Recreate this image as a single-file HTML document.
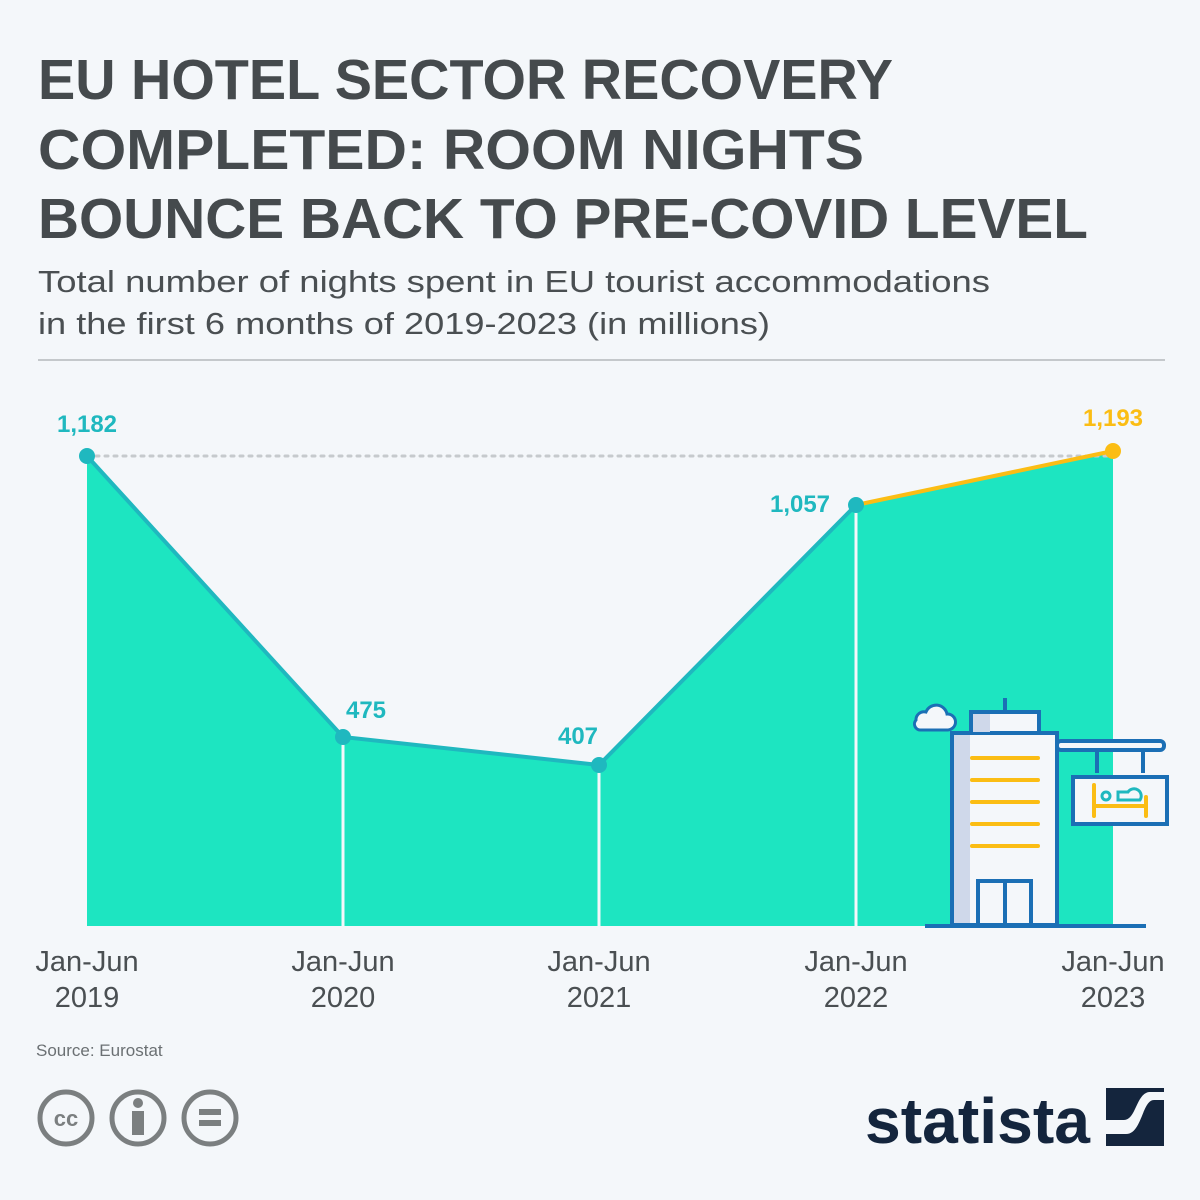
<!DOCTYPE html>
<html><head><meta charset="utf-8"><style>
body{margin:0;background:#f4f7fa;}
svg{display:block}
</style></head><body>
<svg width="1200" height="1200" viewBox="0 0 1200 1200" xmlns="http://www.w3.org/2000/svg" font-family="Liberation Sans, DejaVu Sans, sans-serif">
<rect width="1200" height="1200" fill="#f4f7fa"/>
<g fill="#454a4d" font-weight="bold" font-size="57">
<text x="38" y="99" textLength="855" lengthAdjust="spacingAndGlyphs">EU HOTEL SECTOR RECOVERY</text>
<text x="38" y="169" textLength="826" lengthAdjust="spacingAndGlyphs">COMPLETED: ROOM NIGHTS</text>
<text x="38" y="238" textLength="1050" lengthAdjust="spacingAndGlyphs">BOUNCE BACK TO PRE-COVID LEVEL</text>
</g>
<g fill="#4a4f52" font-size="31">
<text x="38" y="292" textLength="952" lengthAdjust="spacingAndGlyphs">Total number of nights spent in EU tourist accommodations</text>
<text x="38" y="334" textLength="732" lengthAdjust="spacingAndGlyphs">in the first 6 months of 2019-2023 (in millions)</text>
</g>
<line x1="38" y1="360" x2="1165" y2="360" stroke="#c4c8cb" stroke-width="2"/>
<polygon points="87,456 343,737 599,765 856,505 1113,451 1113,926 87,926" fill="#1de5c1"/>
<line x1="87" y1="456" x2="1113" y2="456" stroke="#c6cacd" stroke-width="3" stroke-dasharray="3,6" stroke-linecap="round"/>
<g stroke="#f4f7fa" stroke-width="3">
<line x1="343" y1="737" x2="343" y2="926"/><line x1="599" y1="765" x2="599" y2="926"/><line x1="856" y1="505" x2="856" y2="926"/>
</g>
<polyline points="87,456 343,737 599,765 856,505" fill="none" stroke="#1fb8bf" stroke-width="4"/>
<line x1="856" y1="505" x2="1113" y2="451" stroke="#fbbd14" stroke-width="4"/>
<g fill="#1fb8bf"><circle cx="87" cy="456" r="8"/><circle cx="343" cy="737" r="8"/><circle cx="599" cy="765" r="8"/><circle cx="856" cy="505" r="8"/></g>
<circle cx="1113" cy="451" r="8" fill="#fbbd14"/>
<g font-weight="bold" font-size="24" fill="#1fb8bf" text-anchor="middle">
<text x="87" y="432">1,182</text><text x="366" y="718">475</text><text x="578" y="744">407</text><text x="800" y="512">1,057</text>
<text x="1113" y="426" fill="#fbbd14">1,193</text></g>
<g font-size="29" fill="#4a4f52" text-anchor="middle">
<text x="87" y="971">Jan-Jun</text><text x="87" y="1007">2019</text>
<text x="343" y="971">Jan-Jun</text><text x="343" y="1007">2020</text>
<text x="599" y="971">Jan-Jun</text><text x="599" y="1007">2021</text>
<text x="856" y="971">Jan-Jun</text><text x="856" y="1007">2022</text>
<text x="1113" y="971">Jan-Jun</text><text x="1113" y="1007">2023</text></g>
<!-- hotel -->
<g stroke="#1b6fb5" stroke-width="4" fill="#f4f7fa">
<path d="M916,720 a8,8 0 0 1 10,-8 a11,11 0 0 1 21,2 a8,8 0 0 1 1,16 h-27 a6,6 0 0 1 -5,-10z" stroke-width="3"/>
<rect x="971" y="712" width="68" height="22"/>
<line x1="1005" y1="698" x2="1005" y2="712"/>
<rect x="952" y="733" width="105" height="192"/>
<rect x="1057" y="741" width="107" height="9" rx="4"/>
<line x1="1097" y1="750" x2="1097" y2="773"/><line x1="1143" y1="750" x2="1143" y2="773"/>
<rect x="1073" y="777" width="94" height="47"/>
<rect x="978" y="881" width="53" height="44"/><line x1="1005" y1="881" x2="1005" y2="925"/>
<line x1="925" y1="926" x2="1146" y2="926"/>
</g>
<rect x="954" y="735" width="16" height="188" fill="#cfd8ea"/>
<rect x="973" y="714" width="17" height="18" fill="#cfd8ea"/>
<g stroke="#fbbd14" stroke-width="4" stroke-linecap="round">
<line x1="972" y1="758" x2="1038" y2="758"/><line x1="972" y1="780" x2="1038" y2="780"/><line x1="972" y1="802" x2="1038" y2="802"/><line x1="972" y1="824" x2="1038" y2="824"/><line x1="972" y1="846" x2="1038" y2="846"/>
<line x1="1094" y1="785" x2="1094" y2="816"/><line x1="1146" y1="797" x2="1146" y2="816"/><line x1="1094" y1="806" x2="1146" y2="806"/></g>
<circle cx="1106" cy="796" r="4" fill="none" stroke="#1fb8bf" stroke-width="3"/>
<path d="M1118,792 h10 a7,7 0 0 1 12,8 h-22z" fill="none" stroke="#1fb8bf" stroke-width="3"/>
<text x="36" y="1056" font-size="17" fill="#6b7073">Source: Eurostat</text>
<g stroke="#7b7f80" stroke-width="5" fill="none">
<circle cx="66" cy="1118" r="26"/><circle cx="138" cy="1118" r="26"/><circle cx="210" cy="1118" r="26"/></g>
<text x="66" y="1126" font-size="22" font-weight="bold" fill="#7b7f80" text-anchor="middle">cc</text>
<circle cx="138" cy="1103" r="5" fill="#7b7f80"/><rect x="132" y="1111" width="12" height="24" fill="#7b7f80"/>
<rect x="199" y="1109" width="22" height="6" fill="#7b7f80"/><rect x="199" y="1120" width="22" height="6" fill="#7b7f80"/>
<text x="865" y="1143" font-size="64" font-weight="bold" fill="#14253d" textLength="225" lengthAdjust="spacingAndGlyphs">statista</text>
<rect x="1106" y="1088" width="58" height="58" fill="#14253d"/>
<path d="M1106,1120 h18 c12,0 12,-26 25,-28 h15 v8 h-10 c-12,0 -12,34 -28,34 h-20z" fill="#f4f7fa"/>
</svg>
</body></html>
